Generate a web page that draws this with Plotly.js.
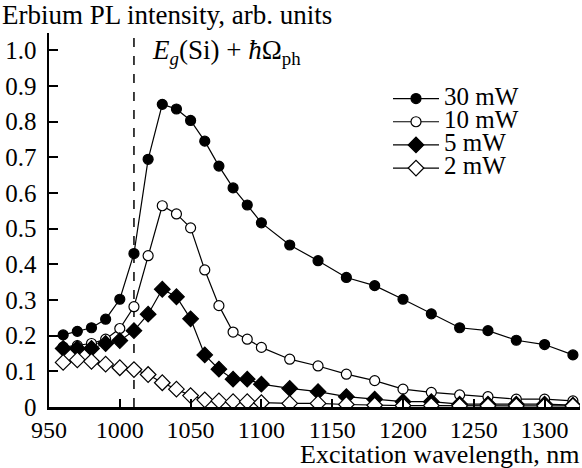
<!DOCTYPE html>
<html>
<head>
<meta charset="utf-8">
<script src="https://cdn.plot.ly/plotly-3.0.1.min.js"></script>
<style>html,body{margin:0;padding:0;background:#fff;}#chart{width:582px;height:468px;}</style>
</head>
<body>
<div id="chart"></div>
<script>
// Excitation wavelength, nm
const wavelength = [960,970,980,990,1000,1010,1020,1030,1040,1050,1060,1070,1080,1090,1100,1120,1140,1160,1180,1200,1220,1240,1260,1280,1300,1320];
// Erbium PL intensity, arb. units
const p30mW = [0.202,0.212,0.222,0.246,0.302,0.430,0.694,0.848,0.835,0.803,0.745,0.675,0.614,0.566,0.516,0.454,0.410,0.363,0.340,0.302,0.261,0.222,0.214,0.187,0.175,0.146];
const p10mW = [0.168,0.172,0.178,0.190,0.220,0.281,0.424,0.564,0.541,0.502,0.384,0.284,0.210,0.190,0.167,0.134,0.115,0.092,0.074,0.050,0.041,0.034,0.029,0.022,0.022,0.017];
const p5mW  = [0.164,0.164,0.164,0.178,0.186,0.214,0.260,0.330,0.309,0.247,0.146,0.106,0.078,0.078,0.064,0.052,0.043,0.029,0.022,0.015,0.015,0.008,0.008,0.008,0.008,0.005];
const p2mW  = [0.125,0.132,0.128,0.120,0.110,0.105,0.091,0.068,0.050,0.032,0.020,0.017,0.015,0.015,0.012,0.010,0.010,0.007,0.005,0.004,0.004,0.003,0.003,0.003,0.003,0.003];
const seriesNames = ['30 mW','10 mW','5 mW','2 mW'];
const xTickVals = [950,1000,1050,1100,1150,1200,1250,1300];
const yTickVals = [0,0.1,0.2,0.3,0.4,0.5,0.6,0.7,0.8,0.9,1.0];
const yTickText = ['0','0.1','0.2','0.3','0.4','0.5','0.6','0.7','0.8','0.9','1.0'];
const bandEdge = 1010; // Eg(Si) + ħΩph

const FONT = 'Liberation Serif';
const lineStyle = {color:'black', width:1.2};

function trace(y, name, symbol, fill, size){
  return {
    x: wavelength, y: y, type:'scatter', mode:'lines+markers',
    name: '<span style="font-size:25px">' + name + '</span>',
    line: lineStyle,
    marker: {symbol: symbol, size: size, color: fill, line:{color:'black', width:1.2}}
  };
}

const data = [
  trace(p30mW, seriesNames[0], 'circle', 'black', 10),
  trace(p10mW, seriesNames[1], 'circle', 'white', 10),
  trace(p5mW,  seriesNames[2], 'diamond', 'black', 12),
  trace(p2mW,  seriesNames[3], 'diamond', 'white', 12)
];

const layout = {
  width: 582, height: 468,
  margin: {l:49, r:2, t:33, b:61},
  paper_bgcolor:'white', plot_bgcolor:'white',
  font: {family: FONT, size: 25, color:'black'},
  showlegend: true,
  legend: {
    x: (388-49)/531, y: (407-82)/374, xanchor:'left', yanchor:'top',
    bgcolor:'rgba(0,0,0,0)', font:{family:FONT, size:15.5, color:'black'},
    itemwidth: 46, tracegroupgap: 0
  },
  xaxis: {
    range: [950, 1325], tickmode:'array', tickvals: xTickVals,
    ticks:'inside', ticklen:8, tickwidth:2, tickcolor:'black',
    showline:true, linewidth:2.5, linecolor:'black', mirror:false,
    showgrid:false, zeroline:false,
    tickfont:{family:FONT, size:24, color:'black'}
  },
  yaxis: {
    range: [0, 1.048], tickmode:'array', tickvals: yTickVals, ticktext: yTickText,
    ticks:'inside', ticklen:9, tickwidth:2, tickcolor:'black',
    showline:true, linewidth:2.5, linecolor:'black', mirror:false,
    showgrid:false, zeroline:false, ticklabelstandoff: 5,
    tickfont:{family:FONT, size:25, color:'black'}
  },
  shapes: [{
    type:'line', xref:'x', yref:'paper', x0: bandEdge, x1: bandEdge, y0:0, y1:1,
    line:{color:'black', width:1.5, dash:'dash'}, layer:'below'
  }],
  annotations: [
    {text:'Erbium PL intensity, arb. units', xref:'paper', yref:'paper',
     x:-49/531, y:1+(33-15)/374, xanchor:'left', yanchor:'middle', showarrow:false,
     font:{family:FONT, size:27, color:'black'}},
    {text:'Excitation wavelength, nm', xref:'paper', yref:'paper',
     x:1+1/531, y:-(454-407)/374, xanchor:'right', yanchor:'middle', showarrow:false,
     font:{family:FONT, size:26, color:'black'}},
    {text:'<i>E</i><sub><i>g</i></sub>(Si) + <i>ħ</i>Ω<sub>ph</sub>', xref:'paper', yref:'paper',
     x:(150-49)/531, y:(407-52)/374, xanchor:'left', yanchor:'middle', showarrow:false,
     font:{family:FONT, size:27, color:'black'}}
  ]
};

Plotly.newPlot('chart', data, layout, {displayModeBar:false, staticPlot:true});
</script>
</body>
</html>
